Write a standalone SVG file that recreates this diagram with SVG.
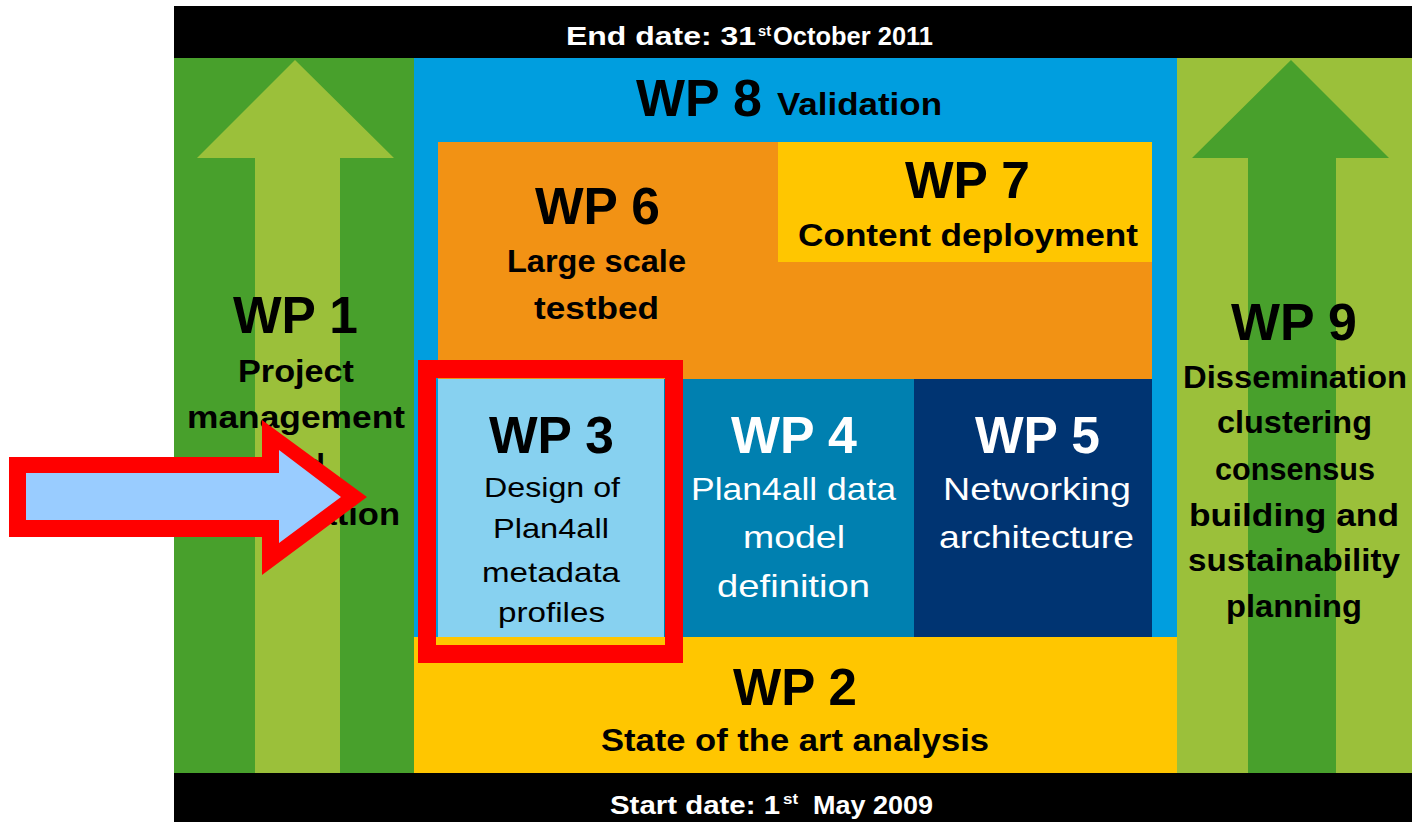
<svg xmlns="http://www.w3.org/2000/svg" width="1412" height="822" viewBox="0 0 1412 822">
<style>
  .h { font-family: "Liberation Sans", Arial, sans-serif; font-weight: bold; font-size: 52px; text-anchor: start; }
  .sb { font-family: "Liberation Sans", Arial, sans-serif; font-weight: bold; font-size: 31px; }
  .sr { font-family: "Liberation Sans", Arial, sans-serif; font-weight: normal; font-size: 32px; }
  .s3 { font-family: "Liberation Sans", Arial, sans-serif; font-weight: normal; font-size: 28px; }
  .band { font-family: "Liberation Sans", Arial, sans-serif; font-weight: bold; font-size: 25px; fill: #ffffff; }
  .sup { font-size: 14px; }
  .k { fill: #000000; }
  .w { fill: #ffffff; }
</style>
<rect x="0" y="0" width="1412" height="822" fill="#ffffff"/>

<g id="end-band">
  <rect x="174" y="6" width="1238" height="52" fill="#000000"/>
  <text class="band" y="45"><tspan x="566" textLength="190" lengthAdjust="spacingAndGlyphs">End date: 31</tspan><tspan class="sup" x="758" y="36" textLength="13" lengthAdjust="spacingAndGlyphs">st</tspan><tspan x="773" y="45" textLength="160" lengthAdjust="spacingAndGlyphs">October 2011</tspan></text>
</g>

<g id="start-band">
  <rect x="174" y="773" width="1238" height="49" fill="#000000"/>
  <text class="band" y="814"><tspan x="610" textLength="170" lengthAdjust="spacingAndGlyphs">Start date: 1</tspan><tspan class="sup" x="783" y="804" textLength="15" lengthAdjust="spacingAndGlyphs">st</tspan><tspan x="813" y="814" textLength="120" lengthAdjust="spacingAndGlyphs">May 2009</tspan></text>
</g>

<g id="wp1">
  <rect x="174" y="58" width="240" height="715" fill="#48A02C"/>
  <polygon points="295,60 394,158 340,158 340,773 255,773 255,158 197,158" fill="#9BC03A"/>
  <text class="h k" x="233" y="333" textLength="125" lengthAdjust="spacingAndGlyphs">WP 1</text>
  <text class="sb k" x="238" y="382" textLength="116" lengthAdjust="spacingAndGlyphs">Project</text>
  <text class="sb k" x="187" y="428" textLength="218" lengthAdjust="spacingAndGlyphs">management</text>
  <text class="sb k" x="269" y="476" textLength="56" lengthAdjust="spacingAndGlyphs">and</text>
  <text class="sb k" x="191" y="525" textLength="209" lengthAdjust="spacingAndGlyphs">coordination</text>
</g>

<g id="wp9">
  <rect x="1177" y="58" width="235" height="715" fill="#9BC03A"/>
  <polygon points="1291,60 1389,158 1336,158 1336,773 1248,773 1248,158 1192,158" fill="#48A02C"/>
  <text class="h k" x="1231" y="340" textLength="126" lengthAdjust="spacingAndGlyphs">WP 9</text>
  <text class="sb k" x="1183" y="388" textLength="224" lengthAdjust="spacingAndGlyphs">Dissemination</text>
  <text class="sb k" x="1217" y="433" textLength="155" lengthAdjust="spacingAndGlyphs">clustering</text>
  <text class="sb k" x="1215" y="480" textLength="160" lengthAdjust="spacingAndGlyphs">consensus</text>
  <text class="sb k" x="1189" y="526" textLength="210" lengthAdjust="spacingAndGlyphs">building and</text>
  <text class="sb k" x="1188" y="571" textLength="212" lengthAdjust="spacingAndGlyphs">sustainability</text>
  <text class="sb k" x="1226" y="617" textLength="136" lengthAdjust="spacingAndGlyphs">planning</text>
</g>

<g id="wp8">
  <rect x="414" y="58" width="763" height="580" fill="#009EDF"/>
  <text class="h k" x="636" y="116" textLength="126" lengthAdjust="spacingAndGlyphs">WP 8</text>
  <text class="sb k" x="777" y="115" textLength="165" lengthAdjust="spacingAndGlyphs">Validation</text>
</g>

<g id="wp2">
  <rect x="414" y="637" width="763" height="136" fill="#FFC600"/>
  <text class="h k" x="733" y="705" textLength="124" lengthAdjust="spacingAndGlyphs">WP 2</text>
  <text class="sb k" x="601" y="751" textLength="388" lengthAdjust="spacingAndGlyphs">State of the art analysis</text>
</g>

<g id="wp6">
  <rect x="438" y="142" width="714" height="237" fill="#F29214"/>
  <text class="h k" x="535" y="224" textLength="125" lengthAdjust="spacingAndGlyphs">WP 6</text>
  <text class="sb k" x="507" y="272" textLength="179" lengthAdjust="spacingAndGlyphs">Large scale</text>
  <text class="sb k" x="534" y="319" textLength="125" lengthAdjust="spacingAndGlyphs">testbed</text>
</g>

<g id="wp7">
  <rect x="778" y="142" width="374" height="120" fill="#FFC600"/>
  <text class="h k" x="905" y="198" textLength="125" lengthAdjust="spacingAndGlyphs">WP 7</text>
  <text class="sb k" x="798" y="246" textLength="340" lengthAdjust="spacingAndGlyphs">Content deployment</text>
</g>

<g id="wp3">
  <rect x="438" y="379" width="226" height="258" fill="#87D1F0"/>
  <text class="h k" x="489" y="453" textLength="125" lengthAdjust="spacingAndGlyphs">WP 3</text>
  <text class="s3 k" x="484" y="497" textLength="136" lengthAdjust="spacingAndGlyphs">Design of</text>
  <text class="s3 k" x="493" y="538" textLength="116" lengthAdjust="spacingAndGlyphs">Plan4all</text>
  <text class="s3 k" x="482" y="582" textLength="138" lengthAdjust="spacingAndGlyphs">metadata</text>
  <text class="s3 k" x="498" y="622" textLength="107" lengthAdjust="spacingAndGlyphs">profiles</text>
</g>

<g id="wp4">
  <rect x="664" y="379" width="250" height="258" fill="#0080B0"/>
  <text class="h w" x="731" y="453" textLength="126" lengthAdjust="spacingAndGlyphs">WP 4</text>
  <text class="sr w" x="691" y="500" textLength="205" lengthAdjust="spacingAndGlyphs">Plan4all data</text>
  <text class="sr w" x="743" y="548" textLength="102" lengthAdjust="spacingAndGlyphs">model</text>
  <text class="sr w" x="717" y="597" textLength="153" lengthAdjust="spacingAndGlyphs">definition</text>
</g>

<g id="wp5">
  <rect x="914" y="379" width="238" height="258" fill="#003472"/>
  <text class="h w" x="975" y="453" textLength="125" lengthAdjust="spacingAndGlyphs">WP 5</text>
  <text class="sr w" x="943" y="500" textLength="188" lengthAdjust="spacingAndGlyphs">Networking</text>
  <text class="sr w" x="939" y="548" textLength="195" lengthAdjust="spacingAndGlyphs">architecture</text>
</g>

<g id="connectors">
  <rect x="427" y="369" width="247" height="285" fill="none" stroke="#FF0000" stroke-width="18"/>
  <polygon points="9,457 262,457 262,420 367,497 262,575 262,537 9,537" fill="#FF0000"/>
  <polygon points="26,473 279,473 279,450 341,497 279,543 279,520 26,520" fill="#99CCFF"/>
</g>
</svg>
